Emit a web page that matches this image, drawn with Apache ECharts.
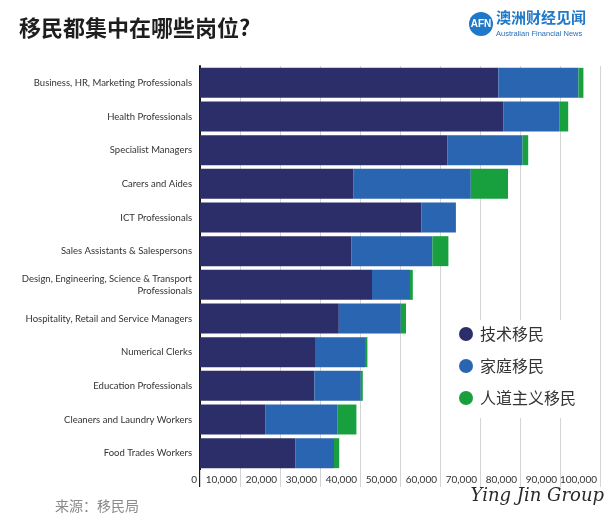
<!DOCTYPE html>
<html><head><meta charset="utf-8">
<script src="https://cdn.jsdelivr.net/npm/echarts@6/dist/echarts.min.js"></script>
<style>html,body{margin:0;padding:0;background:#fff}#c{width:613px;height:528px}</style>
</head><body><div id="c"></div>
<script>
const categories = [
  "Business, HR, Marketing Professionals",
  "Health Professionals",
  "Specialist Managers",
  "Carers and Aides",
  "ICT Professionals",
  "Sales Assistants & Salespersons",
  "Design, Engineering, Science & Transport\nProfessionals",
  "Hospitality, Retail and Service Managers",
  "Numerical Clerks",
  "Education Professionals",
  "Cleaners and Laundry Workers",
  "Food Trades Workers"
];
const skilled = [74600, 75800, 61900, 38300, 55400, 37900, 43000, 34700, 28750, 28600, 16300, 23800];
const family = [20000, 14000, 18750, 29400, 8350, 20200, 9500, 15500, 12500, 11600, 18000, 9700];
const humanitarian = [1250, 2250, 1400, 9300, 250, 4000, 700, 1300, 600, 500, 4800, 1300];
const seriesNames = ["技术移民", "家庭移民", "人道主义移民"];
const xTicks = [0, 10000, 100000];

const colors = ["#2c2e69", "#2a65b1", "#18a03f"];
const chart = echarts.init(document.getElementById('c'), null, {renderer: 'canvas'});
const latin = "Lato, 'Open Sans', sans-serif";
const cjk = "'Noto Sans CJK SC', sans-serif";
const dataArr = [skilled, family, humanitarian];
chart.setOption({
  animation: false,
  color: colors,
  title: {
    text: "移民都集中在哪些岗位?",
    left: 14, top: 12,
    textStyle: {fontFamily: cjk, fontSize: 22, fontWeight: 'bold', color: '#1e1e1e'}
  },
  grid: {left: 200, right: 13, top: 66, bottom: 58, containLabel: false},
  legend: {
    orient: 'vertical', left: 451, top: 320,
    backgroundColor: '#ffffff',
    padding: [6, 12, 12, 8],
    itemGap: 16,
    icon: 'circle', itemWidth: 14, itemHeight: 14,
    textStyle: {fontFamily: cjk, fontSize: 16, color: '#333', padding: [0, 0, 0, 2]},
    data: seriesNames
  },
  xAxis: {
    type: 'value', min: xTicks[0], max: xTicks[2], interval: xTicks[1],
    axisLine: {show: false},
    axisTick: {show: true, length: 17, lineStyle: {color: '#d4d4d4'}},
    splitLine: {show: true, lineStyle: {color: '#d4d4d4', width: 1}},
    axisLabel: {
      fontFamily: latin, fontSize: 10, color: '#333', margin: 5, align: 'right',
      padding: [0, 3, 0, 0],
      formatter: v => v.toLocaleString('en-US')
    }
  },
  yAxis: {
    type: 'category', inverse: true, data: categories,
    axisLine: {show: true, lineStyle: {color: '#1a1a1a', width: 2}},
    axisTick: {show: false},
    axisLabel: {fontFamily: latin, fontSize: 9.5, color: '#333', margin: 8, lineHeight: 12, align: 'right'}
  },
  series: seriesNames.map((n, i) => ({
    name: n, type: 'bar', stack: 'total', data: dataArr[i],
    barCategoryGap: '11%',
    itemStyle: {color: colors[i]}
  })),
  graphic: [
    {type: 'line', shape: {x1: 200, y1: 470, x2: 200, y2: 487}, style: {stroke: '#1a1a1a', lineWidth: 2}},
    {type: 'circle', shape: {cx: 481, cy: 24, r: 12}, style: {fill: '#1f78c8'}},
    {type: 'text', x: 481, y: 24, style: {text: 'AFN', fill: '#fff', font: 'bold 10px Arial, sans-serif', align: 'center', verticalAlign: 'middle'}},
    {type: 'text', x: 496, y: 10, style: {text: '澳洲财经见闻', fill: '#1f78c8', font: 'bold 15px "Noto Sans CJK SC", sans-serif'}},
    {type: 'text', x: 496, y: 30, style: {text: 'Australian Financial News', fill: '#2a6fb8', font: '7.5px Arial, sans-serif'}},
    {type: 'text', x: 55, y: 499, style: {text: '来源：移民局', fill: '#8a8a8a', font: '14px "Noto Sans CJK SC", sans-serif'}},
    {type: 'text', x: 604, y: 487, style: {text: 'Ying Jin Group', fill: '#2a2a2a', font: 'italic 18px "DejaVu Serif", serif', align: 'right'}}
  ]
});
</script></body></html>
